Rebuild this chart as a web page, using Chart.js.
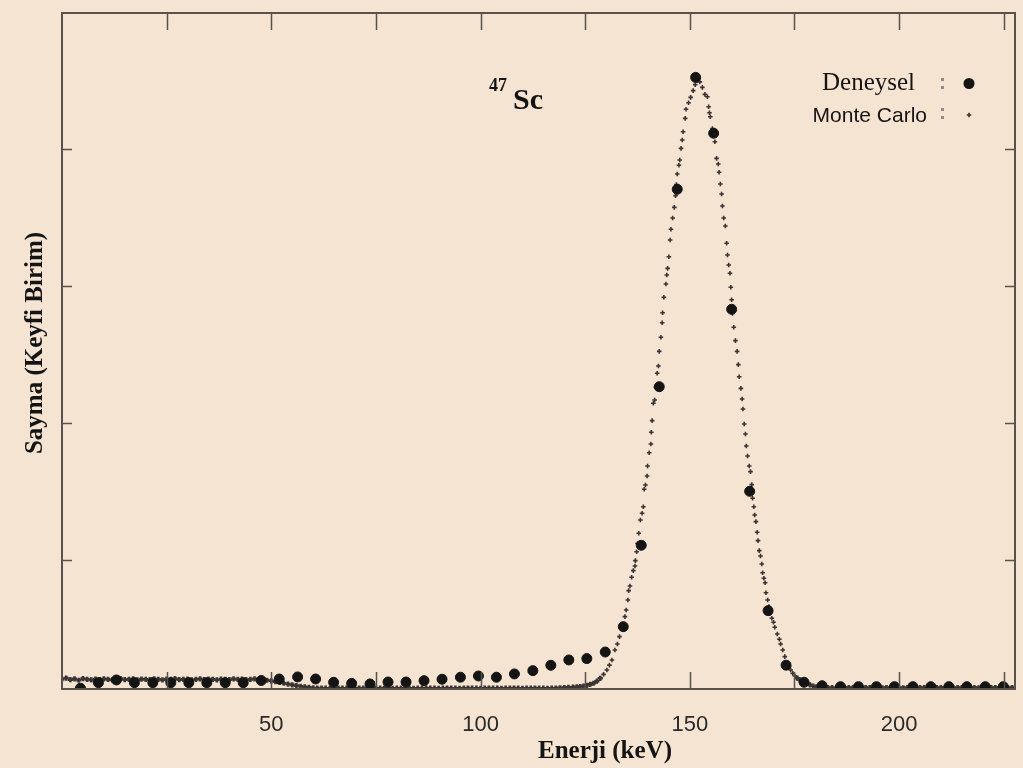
<!DOCTYPE html>
<html lang="tr">
<head>
<meta charset="utf-8">
<title>47Sc — Sayma spektrumu</title>
<script src="https://cdn.jsdelivr.net/npm/chart.js@4.4.1/dist/chart.umd.min.js"></script>
<style>
  html, body { margin: 0; padding: 0; background: #ffffff; }
  #sc-wrap { width: 1023px; height: 768px; background: #f5e4d1; }
  canvas { display: block; }
</style>
</head>
<body>
<div id="sc-wrap"><canvas id="chart-spectrum" width="1023" height="768"></canvas></div>
<script>
/* ═══════════════════════════════════════════════════════════════
   47Sc — Deneysel vs Monte Carlo spektrumu
   ═══════════════════════════════════════════════════════════════ */

// ─── Ejes ───
const xTicks = [25, 50, 75, 100, 125, 150, 175, 200, 225];
const xLabels = [50, 100, 150, 200];
const yTicks = [1, 2, 3, 4];

// ─── Deneysel (puntos grandes) ───
const deneyselEnerji = [
  4.4, 8.7, 13.0, 17.3, 21.7, 26.0, 30.3, 34.6, 39.0, 43.3,
  47.6, 51.9, 56.3, 60.6, 64.9, 69.2, 73.6, 77.9, 82.2, 86.5,
  90.8, 95.2, 99.5, 103.8, 108.1, 112.5, 116.8, 121.1, 125.4, 129.8,
  134.1, 138.4, 142.7, 147.0, 151.4, 155.7, 160.0, 164.3, 168.7, 173.0,
  177.3, 181.6, 186.0, 190.3, 194.6, 198.9, 203.3, 207.6, 211.9, 216.2,
  220.6, 224.9
];
const deneyselSayma = [
  0.064, 0.104, 0.124, 0.104, 0.104, 0.104, 0.104, 0.104, 0.104, 0.104,
  0.120, 0.131, 0.146, 0.131, 0.107, 0.099, 0.095, 0.109, 0.109, 0.119,
  0.129, 0.144, 0.153, 0.144, 0.168, 0.192, 0.231, 0.270, 0.280, 0.328,
  0.513, 1.107, 2.265, 3.706, 4.523, 4.115, 2.830, 1.501, 0.630, 0.232,
  0.107, 0.082, 0.075, 0.075, 0.075, 0.075, 0.075, 0.075, 0.075, 0.075,
  0.075, 0.075
];

// ─── Monte Carlo (cruces) ───
const mcEnerji = [
  0, 1, 2, 3, 4, 5, 6, 7, 8, 9,
  10, 11, 12, 13, 14, 15, 16, 17, 18, 19,
  20, 21, 22, 23, 24, 25, 26, 27, 28, 29,
  30, 31, 32, 33, 34, 35, 36, 37, 38, 39,
  40, 41, 42, 43, 44, 45, 46, 47, 48, 49,
  50, 51, 52, 53, 54, 55, 56, 57, 58, 59,
  60, 61, 62, 63, 64, 65, 66, 67, 68, 69,
  70, 71, 72, 73, 74, 75, 76, 77, 78, 79,
  80, 81, 82, 83, 84, 85, 86, 87, 88, 89,
  90, 91, 92, 93, 94, 95, 96, 97, 98, 99,
  100, 101, 102, 103, 104, 105, 106, 107, 108, 109,
  110, 111, 112, 113, 114, 115, 116, 117, 118, 119,
  120, 121,
  122.1, 123.0, 123.8, 124.6, 125.4, 126.2, 127.0, 127.8, 128.6, 129.4,
  130.2, 130.8, 131.4, 132.1, 132.7, 133.2, 133.8, 134.5, 134.8, 135.2,
  135.4, 135.7, 136.1, 136.5, 136.9, 137.0, 137.3, 137.5, 137.8, 138.2,
  138.6, 138.9, 139.1, 139.4, 139.8, 139.9, 140.3, 140.7, 140.8, 141.0,
  141.3, 141.6, 141.9, 142.2, 142.5, 142.7, 143.1, 143.4, 143.5, 143.8,
  144.3, 144.5, 144.7, 145.0, 145.3, 145.5, 145.9, 146.3, 146.6, 146.8,
  147.0, 147.4, 147.6, 147.9, 148.2, 148.4, 148.9, 149.1, 149.7, 150.2,
  150.8, 151.3, 151.8, 152.4, 153.0, 153.6, 154.2, 154.5, 154.7, 154.9,
  155.4, 156.0, 156.4, 156.8, 157.0, 157.3, 157.6, 157.8, 158.1, 158.5,
  158.8, 159.0, 159.3, 159.6, 159.8, 160.0, 160.2, 160.5, 160.9, 161.3,
  161.6, 161.8, 162.2, 162.5, 162.7, 163.0, 163.3, 163.5, 163.8, 164.2,
  164.5, 164.8, 165.0, 165.3, 165.5, 165.8, 166.1, 166.3, 166.6, 166.9,
  167.2, 167.4, 167.7, 168.0, 168.2, 168.6, 168.9, 169.2, 169.6, 170.0,
  170.3, 170.9, 171.4, 171.7, 172.2, 172.7, 173.3, 173.7, 174.1, 174.6,
  175.1, 175.7, 176.3, 177.1, 177.9, 178.7, 179.5, 180.3,
  181, 182, 183, 184, 185, 186, 187, 188, 189, 190,
  191, 192, 193, 194, 195, 196, 197, 198, 199, 200,
  201, 202, 203, 204, 205, 206, 207, 208, 209, 210,
  211, 212, 213, 214, 215, 216, 217, 218, 219, 220,
  221, 222, 223, 224, 225, 226, 227, 228
];
const mcSayma = [
  0.130, 0.138, 0.126, 0.132, 0.122, 0.134, 0.128, 0.124, 0.130, 0.126,
  0.132, 0.128, 0.124, 0.130, 0.134, 0.126, 0.128, 0.132, 0.124, 0.130,
  0.128, 0.126, 0.132, 0.128, 0.124, 0.130, 0.128, 0.134, 0.126, 0.128,
  0.130, 0.124, 0.128, 0.132, 0.126, 0.130, 0.128, 0.124, 0.130, 0.128,
  0.126, 0.132, 0.128, 0.130, 0.126, 0.128, 0.132, 0.126, 0.124, 0.122,
  0.118, 0.112, 0.106, 0.100, 0.094, 0.088, 0.083, 0.078, 0.074, 0.070,
  0.067, 0.064, 0.065, 0.064, 0.063, 0.064, 0.065, 0.064, 0.064, 0.063,
  0.064, 0.065, 0.064, 0.064, 0.063, 0.064, 0.064, 0.065, 0.064, 0.063,
  0.064, 0.064, 0.065, 0.064, 0.063, 0.064, 0.064, 0.065, 0.064, 0.064,
  0.063, 0.064, 0.065, 0.064, 0.064, 0.063, 0.064, 0.065, 0.064, 0.064,
  0.063, 0.064, 0.065, 0.064, 0.064, 0.063, 0.064, 0.064, 0.065, 0.064,
  0.063, 0.064, 0.064, 0.065, 0.064, 0.064, 0.063, 0.064, 0.065, 0.066,
  0.068, 0.070,
  0.072, 0.074, 0.076, 0.080, 0.085, 0.092, 0.100, 0.115, 0.136, 0.165,
  0.197, 0.232, 0.270, 0.343, 0.387, 0.440, 0.510, 0.586, 0.635, 0.708,
  0.776, 0.810, 0.874, 0.922, 0.956, 0.995, 1.060, 1.120, 1.195, 1.292,
  1.341, 1.389, 1.516, 1.547, 1.613, 1.686, 1.783, 1.847, 1.932, 2.017,
  2.144, 2.168, 2.260, 2.363, 2.416, 2.523, 2.626, 2.732, 2.805, 2.918,
  3.015, 3.080, 3.129, 3.214, 3.336, 3.414, 3.496, 3.574, 3.660, 3.740,
  3.818, 3.881, 3.920, 4.005, 4.066, 4.126, 4.224, 4.290, 4.338, 4.377,
  4.426, 4.470, 4.500, 4.490, 4.450, 4.399, 4.382, 4.309, 4.265, 4.236,
  4.150, 4.053, 3.932, 3.891, 3.830, 3.745, 3.672, 3.584, 3.496, 3.438,
  3.312, 3.226, 3.153, 3.093, 2.991, 2.900, 2.800, 2.699, 2.601, 2.523,
  2.426, 2.338, 2.253, 2.175, 2.102, 1.993, 1.920, 1.832, 1.759, 1.686,
  1.645, 1.550, 1.450, 1.389, 1.328, 1.280, 1.202, 1.141, 1.068, 1.029,
  0.971, 0.907, 0.866, 0.834, 0.761, 0.708, 0.660, 0.610, 0.574, 0.545,
  0.509, 0.460, 0.421, 0.387, 0.343, 0.294, 0.250, 0.220, 0.197, 0.172,
  0.153, 0.137, 0.124, 0.110, 0.100, 0.088, 0.080, 0.074,
  0.070, 0.069, 0.068, 0.068, 0.067, 0.068, 0.068, 0.069, 0.068, 0.067,
  0.068, 0.068, 0.069, 0.068, 0.068, 0.067, 0.068, 0.068, 0.069, 0.068,
  0.067, 0.068, 0.068, 0.068, 0.069, 0.068, 0.067, 0.068, 0.068, 0.069,
  0.068, 0.068, 0.067, 0.068, 0.068, 0.069, 0.068, 0.068, 0.067, 0.068,
  0.068, 0.069, 0.068, 0.068, 0.067, 0.068, 0.068, 0.068
];

(function() {
    'use strict';

    const FRAME = '#56524d';
    const INK = '#141414';
    const CROSS = '#3a3434';
    const SERIF = "'Liberation Serif', 'Times New Roman', serif";
    const SANS = "'Liberation Sans', Arial, sans-serif";

    function toPoints(xs, ys) {
        return xs.map((x, i) => ({ x: x, y: ys[i] }));
    }

    // cruces de la línea base: más gruesas (en el original se solapan)
    function isBase(ctx) {
        const p = ctx.raw;
        return p && p.y < 0.15;
    }

    // ─── Marco + ticks hacia dentro (en los 4 lados) ───
    const framePlugin = {
        id: 'frame',
        afterDatasetsDraw(chart) {
            const { ctx, chartArea: a, scales: { x, y } } = chart;
            ctx.save();
            ctx.strokeStyle = FRAME;
            ctx.lineWidth = 1.5;
            ctx.beginPath();
            xTicks.forEach(v => {
                const px = Math.round(x.getPixelForValue(v)) + 0.5;
                ctx.moveTo(px, a.bottom); ctx.lineTo(px, a.bottom - 17);
                ctx.moveTo(px, a.top); ctx.lineTo(px, a.top + 17);
            });
            yTicks.forEach(v => {
                const py = Math.round(y.getPixelForValue(v)) + 0.5;
                ctx.moveTo(a.left, py); ctx.lineTo(a.left + 10, py);
                ctx.moveTo(a.right, py); ctx.lineTo(a.right - 10, py);
            });
            ctx.stroke();
            ctx.lineWidth = 2;
            ctx.strokeRect(a.left, a.top, a.right - a.left, a.bottom - a.top);
            ctx.restore();
        }
    };

    // ─── Títulos, anotación y leyenda ───
    const textPlugin = {
        id: 'texts',
        afterDraw(chart) {
            const ctx = chart.ctx;
            ctx.save();
            ctx.fillStyle = INK;
            ctx.textBaseline = 'alphabetic';

            // eje x
            ctx.font = 'bold 25px ' + SERIF;
            ctx.textAlign = 'center';
            ctx.fillText('Enerji (keV)', 605, 758);

            // eje y
            ctx.save();
            ctx.translate(42, 343);
            ctx.rotate(-Math.PI / 2);
            ctx.fillText('Sayma (Keyfi Birim)', 0, 0);
            ctx.restore();

            // 47Sc
            ctx.textAlign = 'left';
            ctx.font = 'bold 18px ' + SERIF;
            ctx.fillText('47', 489, 91);
            ctx.font = 'bold 30px ' + SERIF;
            ctx.fillText('Sc', 513, 109);

            // leyenda
            ctx.textAlign = 'right';
            ctx.font = '25px ' + SERIF;
            ctx.fillText('Deneysel', 915, 90);
            ctx.font = '21px ' + SANS;
            ctx.fillText('Monte Carlo', 927, 122);

            // dos puntos grises
            ctx.fillStyle = '#8c8c8c';
            [[78, 86], [108, 116]].forEach(row => {
                row.forEach(py => ctx.fillRect(941, py, 3, 3));
            });

            ctx.fillStyle = INK;
            ctx.beginPath();
            ctx.arc(969, 83.5, 5.5, 0, Math.PI * 2);
            ctx.fill();

            ctx.strokeStyle = CROSS;
            ctx.lineWidth = 1.6;
            ctx.beginPath();
            ctx.moveTo(966.7, 115); ctx.lineTo(971.3, 115);
            ctx.moveTo(969, 112.7); ctx.lineTo(969, 117.3);
            ctx.stroke();
            ctx.restore();
        }
    };

    document.addEventListener('DOMContentLoaded', function() {
        const canvas = document.getElementById('chart-spectrum');

        new Chart(canvas, {
            type: 'scatter',
            data: {
                datasets: [{
                    label: 'Deneysel',
                    data: toPoints(deneyselEnerji, deneyselSayma),
                    backgroundColor: INK,
                    borderColor: INK,
                    pointRadius: 5,
                    pointBorderWidth: 1,
                    showLine: false,
                    order: 0,
                }, {
                    label: 'Monte Carlo',
                    data: toPoints(mcEnerji, mcSayma),
                    pointStyle: 'cross',
                    borderColor: CROSS,
                    backgroundColor: CROSS,
                    pointRadius: ctx => isBase(ctx) ? 2.6 : 2.3,
                    pointBorderWidth: ctx => isBase(ctx) ? 2.6 : 1.6,
                    showLine: false,
                    order: 1,
                }]
            },
            options: {
                responsive: false,
                animation: false,
                layout: { padding: { top: 13, right: 8, left: 0, bottom: 0 } },
                plugins: {
                    legend: { display: false },
                    tooltip: { enabled: false },
                },
                scales: {
                    x: {
                        type: 'linear',
                        min: 0,
                        max: 227.7,
                        afterBuildTicks: s => { s.ticks = xTicks.map(v => ({ value: v })); },
                        afterFit: s => { s.height = 79; },
                        grid: { display: false },
                        border: { display: false },
                        ticks: {
                            autoSkip: false,
                            maxRotation: 0,
                            padding: 15,
                            color: '#2a2a2a',
                            font: { family: SANS, size: 22 },
                            callback: v => xLabels.includes(v) ? String(v) : '',
                        },
                    },
                    y: {
                        type: 'linear',
                        min: 0.058,
                        max: 4.993,
                        afterBuildTicks: s => { s.ticks = yTicks.map(v => ({ value: v })); },
                        afterFit: s => { s.width = 62; },
                        grid: { display: false },
                        border: { display: false },
                        ticks: { display: false },
                    }
                }
            },
            plugins: [framePlugin, textPlugin]
        });
    });

})();
</script>
</body>
</html>
